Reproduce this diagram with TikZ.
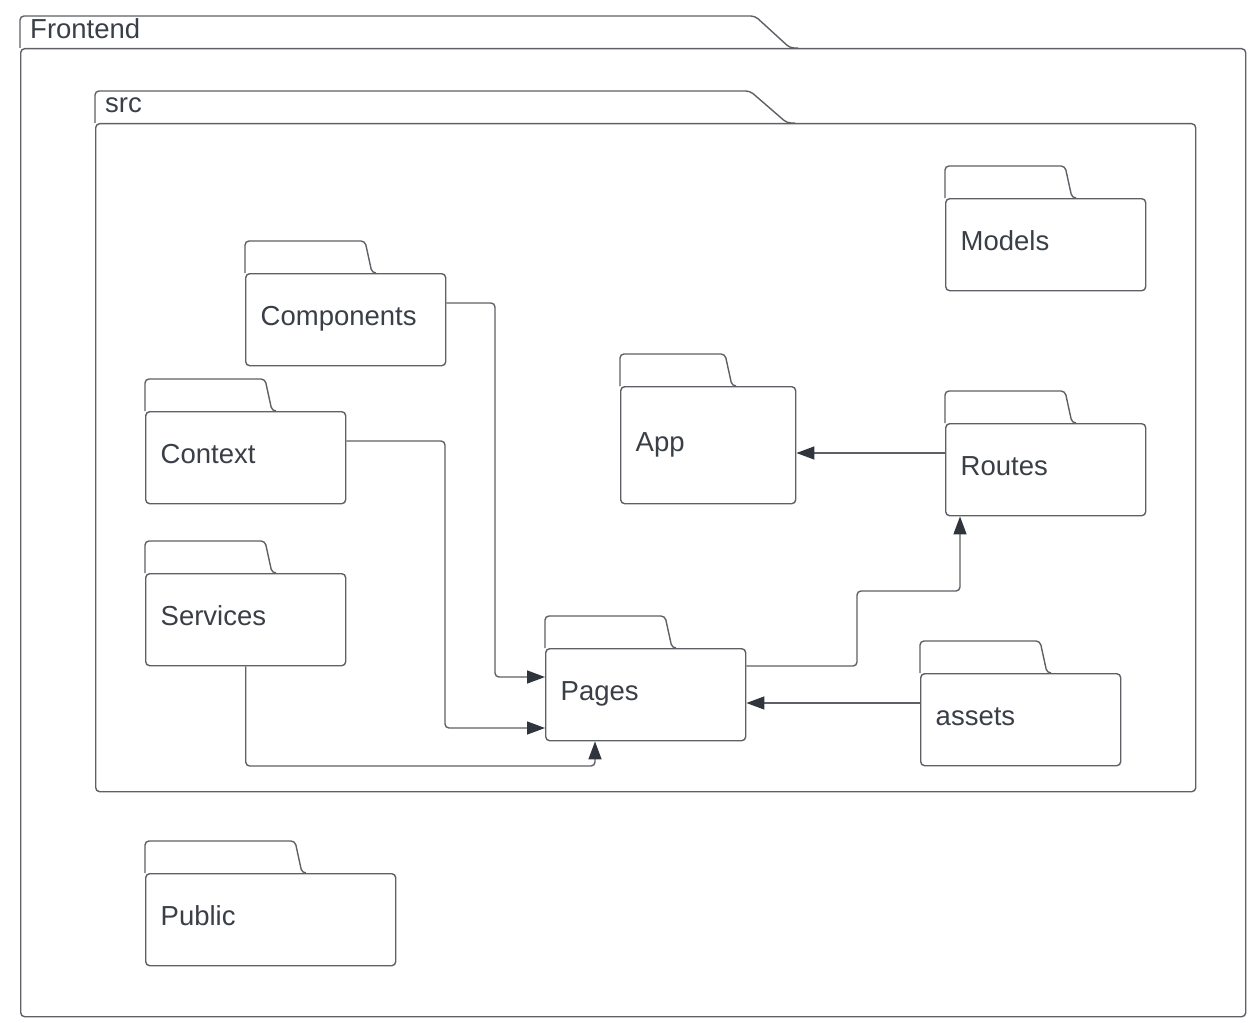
\documentclass[tikz,border=0pt]{standalone}
\usepackage{fontspec}
\setmainfont{Liberation Sans}
\usetikzlibrary{arrows.meta}
\definecolor{linec}{HTML}{5E6066}
\definecolor{textc}{HTML}{3A3F47}
\definecolor{tipc}{HTML}{30353D}
\newcommand\lblfont{\fontsize{27.5pt}{33pt}\selectfont}
\tikzset{
  fbody/.style={draw=linec, line width=1.4pt, rounded corners=4pt, fill=white, anchor=north west,
    inner xsep=15pt, inner ysep=0pt, align=left, text=textc, font=\lblfont, minimum height=92pt, text width=170pt,
    text height=20pt, text depth=8pt},
  tabline/.style={draw=linec, line width=1.4pt, rounded corners=4pt},
  cbody/.style={draw=linec, line width=1.4pt, rounded corners=4pt, anchor=north west, inner sep=0pt},
  clabel/.style={anchor=west, text=textc, font=\lblfont, inner sep=0pt},
  conn/.style={draw=linec, line width=1.4pt, rounded corners=4pt, -{Triangle[length=18pt,width=13pt,fill=tipc,color=tipc]}},
}
\newcommand\mytab[2]{\draw[tabline] (#1.north west) -- ++(0,-32) -- ++(#2,0) -- ++(7,32) -- ++(4,0);}
\begin{document}
\begin{tikzpicture}[x=1pt,y=-1pt]
\useasboundingbox (0,0) rectangle (1252,1022);
% Frontend container
\node[cbody, minimum width=1225pt, minimum height=968pt] (frontend) at (20,48) {};
\draw[tabline] (frontend.north west) -- (20,16) -- (755,16) -- (790,48) -- (798,48);
\node[clabel] (frontendlbl) at (30,29) {Frontend};
% src container
\node[cbody, minimum width=1100pt, minimum height=668pt] (src) at (95,123) {};
\draw[tabline] (src.north west) -- (95,91) -- (750,91) -- (787,123) -- (795,123);
\node[clabel] (srclbl) at (105,105) {src};
% folders
\node[fbody] (comp) at (245,273) {Components}; \mytab{comp}{120}
\node[fbody] (ctx) at (145,411) {Context}; \mytab{ctx}{120}
\node[fbody] (serv) at (145,573) {Services}; \mytab{serv}{120}
\node[fbody] (pages) at (545,648) {Pages}; \mytab{pages}{120}
\node[fbody, text width=145pt, minimum height=117pt] (app) at (620,386) {App}; \mytab{app}{105}
\node[fbody] (models) at (945,198) {Models}; \mytab{models}{120}
\node[fbody] (routes) at (945,423) {Routes}; \mytab{routes}{120}
\node[fbody] (assets) at (920,673) {assets}; \mytab{assets}{120}
\node[fbody, text width=220pt] (public) at (145,873) {Public}; \mytab{public}{150}
% connectors
\draw[conn] (comp.east |- 0,303) -- (495,303) |- (pages.west |- 0,677);
\draw[conn] (ctx.east |- 0,441) -- (445,441) |- (pages.west |- 0,728);
\draw[conn] (serv.south) |- (595,766) -- (pages.south -| 595,0);
\draw[conn] (assets.west |- 0,703) -- (pages.east |- 0,703);
\draw[conn] (pages.east |- 0,666) -- (857,666) -- (857,591) -- (960,591) -- (routes.south -| 960,0);
\draw[conn] (routes.west |- 0,453) -- (app.east |- 0,453);
\end{tikzpicture}
\end{document}
